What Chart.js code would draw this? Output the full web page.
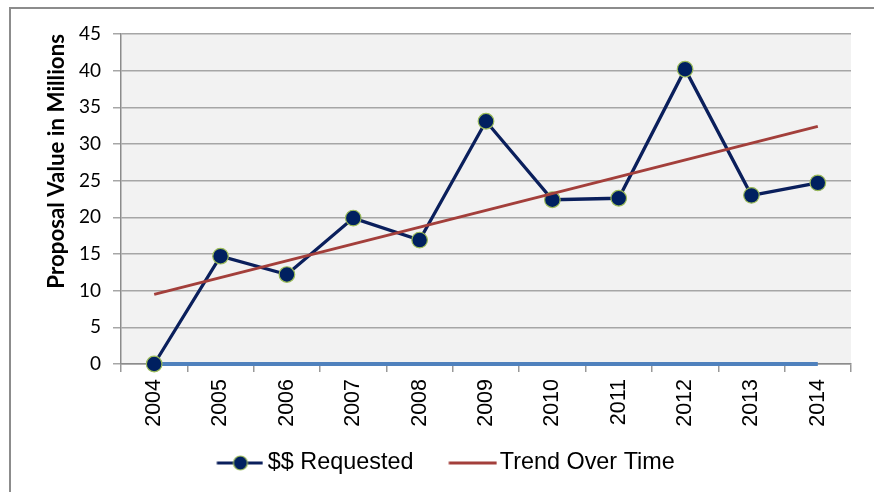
<!DOCTYPE html>
<html>
<head>
<meta charset="utf-8">
<script src="https://cdn.jsdelivr.net/npm/chart.js@4.4.1/dist/chart.umd.min.js"></script>
<style>
  html, body { margin: 0; padding: 0; background: #ffffff; }
  #wrap { position: relative; width: 874px; height: 492px; overflow: hidden; }
  #frame { position: absolute; left: 9px; top: 7px; width: 900px; height: 520px;
           border-top: 2px solid #8c8c8c; border-left: 2px solid #8c8c8c; box-sizing: border-box; }
  canvas { position: absolute; left: 0; top: 0; }
</style>
</head>
<body>
<div id="wrap">
  <div id="frame"></div>
  <canvas id="c" width="874" height="492"></canvas>
</div>
<script>
const years = ['2004','2005','2006','2007','2008','2009','2010','2011','2012','2013','2014'];
const requested = [0, 14.7, 12.2, 19.9, 16.9, 33.1, 22.4, 22.6, 40.2, 23.0, 24.7];
const trend = [9.5, null, null, null, null, null, null, null, null, null, 32.4];
const baseline = [0, 0, 0, 0, 0, 0, 0, 0, 0, 0, 0];
const yTicks = [0, 5, 10, 15, 20, 25, 30, 35, 40, 45];

const NAVY = '#0a1f5c';
const POINT_FILL = '#002060';
const POINT_EDGE = '#9bbb59';
const RED = '#a33f3b';
const BLUE = '#4f81bd';

function makeReqIcon() {
  const c = document.createElement('canvas');
  c.width = 70; c.height = 18;
  const g = c.getContext('2d');
  g.strokeStyle = NAVY; g.lineWidth = 3.2;
  g.beginPath(); g.moveTo(23.4, 9); g.lineTo(69.4, 9); g.stroke();
  g.beginPath(); g.arc(47, 9, 7, 0, Math.PI * 2);
  g.fillStyle = POINT_FILL; g.fill();
  g.lineWidth = 1.2; g.strokeStyle = POINT_EDGE; g.stroke();
  return c;
}
function makeTrendIcon() {
  const c = document.createElement('canvas');
  c.width = 74; c.height = 6;
  const g = c.getContext('2d');
  g.strokeStyle = RED; g.lineWidth = 3;
  g.beginPath(); g.moveTo(25.4, 3); g.lineTo(73.4, 3); g.stroke();
  return c;
}
const reqIcon = makeReqIcon();
const trendIcon = makeTrendIcon();

const plotBg = {
  id: 'plotBg',
  beforeDraw(chart) {
    const a = chart.chartArea, ctx = chart.ctx;
    ctx.save();
    ctx.fillStyle = '#f2f2f2';
    ctx.fillRect(a.left, a.top, a.right - a.left, a.bottom - a.top);
    ctx.restore();
  }
};

new Chart(document.getElementById('c'), {
  type: 'line',
  data: {
    labels: years,
    datasets: [
      {
        label: 'Trend Over Time',
        data: trend,
        borderColor: RED,
        borderWidth: 3,
        pointRadius: 0,
        spanGaps: true,
        clip: false,
        fill: false
      },
      {
        label: '$$ Requested',
        data: requested,
        borderColor: NAVY,
        borderWidth: 3.3,
        pointRadius: 7.8,
        pointBackgroundColor: POINT_FILL,
        pointBorderColor: POINT_EDGE,
        pointBorderWidth: 1.2,
        clip: false,
        fill: false
      },
      {
        label: 'baseline',
        data: baseline,
        borderColor: BLUE,
        borderWidth: 4,
        pointRadius: 0,
        clip: false,
        fill: false
      }
    ]
  },
  options: {
    responsive: false,
    animation: false,
    devicePixelRatio: 1,
    layout: { padding: { left: 24.5, right: 23, top: 34, bottom: 7.3 } },
    plugins: {
      tooltip: { enabled: false },
      legend: {
        position: 'bottom',
        labels: {
          usePointStyle: true,
          pointStyleWidth: 55.3,
          padding: 19.3,
          color: '#000',
          font: { family: 'Liberation Sans', size: 23.4 },
          generateLabels(chart) {
            return [
              { text: '$$ Requested', pointStyle: reqIcon, fillStyle: NAVY, strokeStyle: NAVY, lineWidth: 0, datasetIndex: 1, fontColor: '#000' },
              { text: 'Trend Over Time', pointStyle: trendIcon, fillStyle: RED, strokeStyle: RED, lineWidth: 0, datasetIndex: 0, fontColor: '#000' }
            ];
          }
        }
      }
    },
    scales: {
      x: {
        type: 'category',
        offset: true,
        afterFit(s) { s.height = 68; },
        grid: { display: true, drawOnChartArea: false, drawTicks: true, tickLength: 8, offset: true, color: '#999999', lineWidth: 1.5 },
        border: { display: true, color: '#8c8c8c', width: 1.5 },
        ticks: {
          minRotation: 90, maxRotation: 90, autoSkip: false, padding: 7,
          color: '#000', font: { family: 'Liberation Sans', size: 21.5 }
        }
      },
      y: {
        min: 0, max: 45,
        afterFit(s) { s.width = 96.5; },
        afterBuildTicks(s) { s.ticks = yTicks.map(v => ({ value: v })); },
        grid: { color: '#a6a6a6', lineWidth: 1.5, tickLength: 8, drawTicks: true },
        border: { display: true, color: '#8c8c8c', width: 1.5 },
        ticks: { padding: 12, color: '#000', font: { family: 'Lato', size: 19 } },
        title: {
          display: true,
          text: 'Proposal Value in Millions',
          align: 'end',
          color: '#000',
          font: { family: 'Lato', size: 22.3, weight: 'bold' },
          padding: { top: 19.1, bottom: 0 }
        }
      }
    }
  },
  plugins: [plotBg]
});
</script>
</body>
</html>
